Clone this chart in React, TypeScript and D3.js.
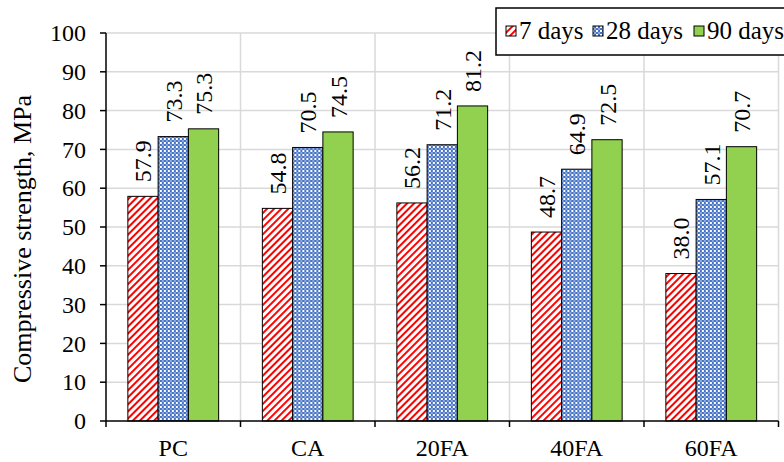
import React from "react";
import * as d3 from "d3";

const categories = ["PC", "CA", "20FA", "40FA", "60FA"];
const seriesNames = ["7 days", "28 days", "90 days"];
const days7 = [57.9, 54.8, 56.2, 48.7, 38.0];
const days28 = [73.3, 70.5, 71.2, 64.9, 57.1];
const days90 = [75.3, 74.5, 81.2, 72.5, 70.7];
const yTicks = [0, 10, 20, 30, 40, 50, 60, 70, 80, 90, 100];

const W = 784;
const H = 462;
const FONT = "'Liberation Serif', 'Times New Roman', serif";

const App: React.FC = () => {
  const margin = { top: 33, right: 5.5, bottom: 41, left: 106 };
  const x0 = d3
    .scaleBand<string>()
    .domain(categories)
    .range([margin.left, W - margin.right])
    .paddingInner(0)
    .paddingOuter(0);
  const y = d3.scaleLinear().domain([0, 100]).range([H - margin.bottom, margin.top]);

  // bars fill about 68% of each category slot
  const groupW = x0.bandwidth() * 0.675;
  const x1 = d3.scaleBand<string>().domain(seriesNames).range([0, groupW]);

  const series = [days7, days28, days90];
  const fills = ["url(#stripes)", "url(#checks)", "#92D050"];
  const boundaries = categories.map((c) => x0(c)!).concat([x0.range()[1]]);
  const y0 = y(0);

  return (
    <div style={{ position: "fixed", left: 0, top: 0 }}>
      <svg width={W} height={H} style={{ display: "block", background: "#fff", fontFamily: FONT }}>
        <defs>
          <pattern id="stripes" patternUnits="userSpaceOnUse" width="5" height="5" patternTransform="rotate(-45)">
            <rect width="5" height="5" fill="#fff" />
            <rect width="5" height="2" fill="#FF0000" />
          </pattern>
          <pattern id="checks" patternUnits="userSpaceOnUse" width="4" height="4">
            <rect width="4" height="4" fill="#fff" />
            <rect x="0" y="0" width="2" height="2" fill="#4472C4" />
            <rect x="2" y="2" width="2" height="2" fill="#4472C4" />
            <rect x="2" y="0" width="2" height="2" fill="#8FAADC" />
          </pattern>
        </defs>

        {/* horizontal grid */}
        {yTicks.filter((t) => t > 0).map((t) => (
          <line key={"h" + t} x1={margin.left} x2={W - margin.right} y1={y(t)} y2={y(t)} stroke="#d9d9d9" strokeWidth={1.5} />
        ))}
        {/* vertical grid at category boundaries */}
        {boundaries.slice(1).map((b, i) => (
          <line key={"v" + i} x1={b} x2={b} y1={margin.top} y2={y0} stroke="#d9d9d9" strokeWidth={1.5} />
        ))}

        {/* bars */}
        {categories.map((c, ci) => (
          <g key={c} transform={`translate(${x0(c)! + (x0.bandwidth() - groupW) / 2},0)`}>
            {series.map((s, si) => {
              const bx = x1(seriesNames[si])!;
              const bw = x1.bandwidth();
              const top = y(s[ci]);
              return (
                <g key={si}>
                  <rect x={bx} y={top} width={bw} height={y0 - top} fill={fills[si]} stroke="#000" strokeWidth={1} />
                  <text
                    transform={`translate(${bx + bw / 2 + 8.5},${top - 14}) rotate(-90)`}
                    fontSize={24}
                    fill="#000"
                  >
                    {s[ci].toFixed(1)}
                  </text>
                </g>
              );
            })}
          </g>
        ))}

        {/* y axis */}
        <line x1={margin.left} x2={margin.left} y1={margin.top} y2={y0} stroke="#000" strokeWidth={1.5} />
        {yTicks.map((t) => (
          <g key={"yt" + t}>
            <line x1={margin.left - 6} x2={margin.left} y1={y(t)} y2={y(t)} stroke="#000" strokeWidth={1.5} />
            <text x={margin.left - 20} y={y(t)} dy="0.34em" textAnchor="end" fontSize={24}>
              {t}
            </text>
          </g>
        ))}

        {/* x axis */}
        <line x1={margin.left} x2={W - margin.right} y1={y0} y2={y0} stroke="#000" strokeWidth={1.5} />
        {boundaries.map((b, i) => (
          <line key={"xt" + i} x1={b} x2={b} y1={y0} y2={y0 + 6} stroke="#000" strokeWidth={1.5} />
        ))}
        {categories.map((c) => (
          <text key={"xl" + c} x={x0(c)! + x0.bandwidth() / 2} y={456} textAnchor="middle" fontSize={24}>
            {c}
          </text>
        ))}

        {/* y title */}
        <text transform={`translate(31,${(margin.top + y0) / 2 + 12}) rotate(-90)`} textAnchor="middle" fontSize={26}>
          Compressive strength, MPa
        </text>

        {/* legend */}
        <rect x={496} y={8} width={300} height={47} fill="#fff" stroke="#000" strokeWidth={1.5} />
        {seriesNames.map((n, i) => {
          const lx = [506, 593, 694][i];
          return (
            <g key={n}>
              <rect x={lx} y={26} width={10} height={10} fill={fills[i]} stroke="#000" strokeWidth={1} />
              <text x={lx + 13} y={39} fontSize={25}>
                {n}
              </text>
            </g>
          );
        })}
      </svg>
    </div>
  );
};

export default App;
